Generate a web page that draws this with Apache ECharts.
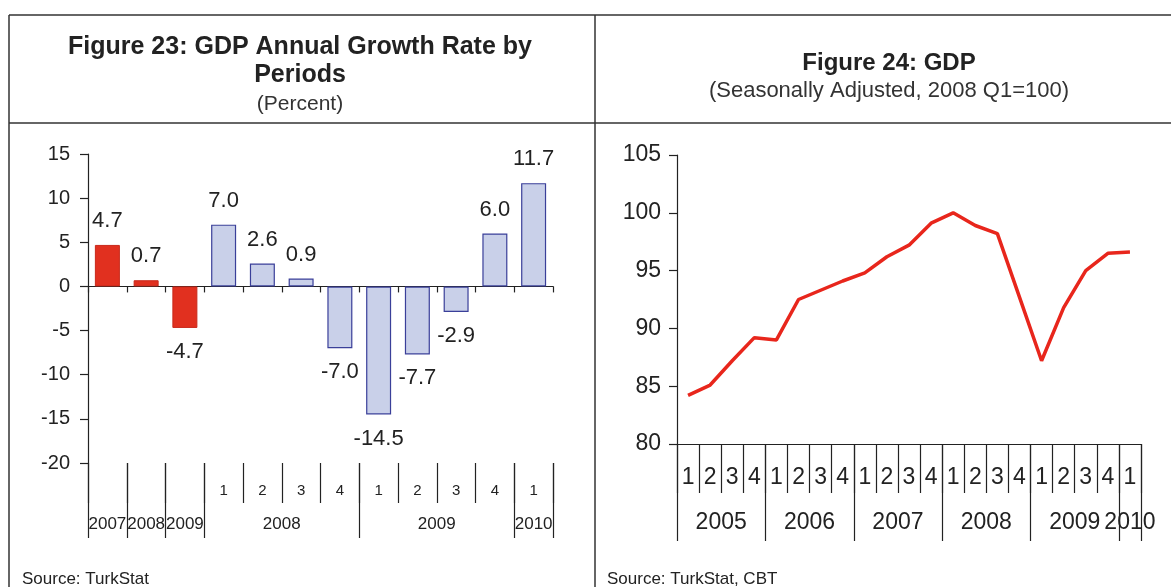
<!DOCTYPE html>
<html>
<head>
<meta charset="utf-8">
<title>GDP growth and GDP index</title>
<script src="https://cdn.jsdelivr.net/npm/echarts@6/dist/echarts.min.js"></script>
<style>
  html, body { margin: 0; padding: 0; background: #fff; }
  #chart { width: 1171px; height: 587px; }
</style>
</head>
<body>
<div id="chart"></div>
<script>
  // Figure 23 - annual growth rate by periods (percent)
  var growthPeriods = ['2007', '2008', '2009', '2008 Q1', '2008 Q2', '2008 Q3', '2008 Q4',
    '2009 Q1', '2009 Q2', '2009 Q3', '2009 Q4', '2010 Q1']
  var growthRates = [4.7, 0.7, -4.7, 7.0, 2.6, 0.9, -7.0, -14.5, -7.7, -2.9, 6.0, 11.7]
  var growthGroups = ['2007', '2008', '2009', '2008', '2009', '2010']
  var growthSpans = [1, 1, 1, 4, 4, 1]
  var growthTicks = [-20, -15, -10, -5, 0, 5, 10, 15]

  // Figure 24 - GDP, seasonally adjusted, 2008 Q1 = 100
  var gdpPeriods = ['2005 Q1', '2005 Q2', '2005 Q3', '2005 Q4', '2006 Q1', '2006 Q2', '2006 Q3', '2006 Q4',
    '2007 Q1', '2007 Q2', '2007 Q3', '2007 Q4', '2008 Q1', '2008 Q2', '2008 Q3', '2008 Q4',
    '2009 Q1', '2009 Q2', '2009 Q3', '2009 Q4', '2010 Q1']
  var gdpIndex = [84.2, 85.1, 87.2, 89.2, 89.0, 92.5, 93.3, 94.1, 94.8, 96.2, 97.2, 99.1,
    100.0, 98.9, 98.2, 92.7, 87.2, 91.8, 95.0, 96.5, 96.6]
  var gdpYears = ['2005', '2006', '2007', '2008', '2009', '2010']
  var gdpSpans = [4, 4, 4, 4, 4, 1]
  var gdpTicks = [80, 85, 90, 95, 100, 105]

  var FONT = 'Liberation Sans, Arial, sans-serif'
  var INK = '#222'

  // start index and center of each year group
  function groupInfo (spans) {
    var starts = []
    var centers = []
    var pos = 0
    for (var i = 0; i < spans.length; i++) {
      starts.push(pos)
      centers.push(pos + spans[i] / 2)
      pos += spans[i]
    }
    return { starts: starts, centers: centers }
  }

  function quarterOf (period) {
    var parts = period.split(' Q')
    return parts.length > 1 ? parts[1] : ''
  }

  function groupLabel (groups, centers) {
    return function (val) {
      for (var i = 0; i < centers.length; i++) {
        if (Math.abs(val - centers[i]) < 1e-6) return groups[i]
      }
      return ''
    }
  }

  var growthInfo = groupInfo(growthSpans)
  var gdpInfo = groupInfo(gdpSpans)

  var axisLine = { color: INK, width: 1.2 }

  var chart = echarts.init(document.getElementById('chart'))
  chart.setOption({
    animation: false,
    backgroundColor: '#fff',
    textStyle: { fontFamily: FONT },
    title: [{
      text: 'Figure 23: GDP Annual Growth Rate by\nPeriods',
      subtext: '(Percent)',
      left: 300,
      top: 33,
      textAlign: 'center',
      itemGap: 4,
      padding: 0,
      textStyle: { fontFamily: FONT, fontSize: 25, fontWeight: 'bold', lineHeight: 28, color: INK },
      subtextStyle: { fontFamily: FONT, fontSize: 21, lineHeight: 22, color: '#333' }
    }, {
      text: 'Figure 24: GDP',
      subtext: '(Seasonally Adjusted, 2008 Q1=100)',
      left: 889,
      top: 50,
      textAlign: 'center',
      itemGap: 3,
      padding: 0,
      textStyle: { fontFamily: FONT, fontSize: 24, fontWeight: 'bold', lineHeight: 26, color: INK },
      subtextStyle: { fontFamily: FONT, fontSize: 22, lineHeight: 24, color: '#333' }
    }, {
      text: 'Source: TurkStat',
      left: 22,
      top: 571,
      padding: 0,
      textStyle: { fontFamily: FONT, fontSize: 17, fontWeight: 'normal', color: INK }
    }, {
      text: 'Source: TurkStat, CBT',
      left: 607,
      top: 571,
      padding: 0,
      textStyle: { fontFamily: FONT, fontSize: 17, fontWeight: 'normal', color: INK }
    }],
    graphic: [
      { type: 'line', shape: { x1: 9, y1: 15, x2: 1171, y2: 15 }, style: { stroke: '#333', lineWidth: 1.5 } },
      { type: 'line', shape: { x1: 9, y1: 123, x2: 1171, y2: 123 }, style: { stroke: '#333', lineWidth: 1.5 } },
      { type: 'line', shape: { x1: 9, y1: 15, x2: 9, y2: 587 }, style: { stroke: '#333', lineWidth: 1.5 } },
      { type: 'line', shape: { x1: 595, y1: 15, x2: 595, y2: 587 }, style: { stroke: '#333', lineWidth: 1.5 } }
    ],
    grid: [
      { left: 88, top: 154, width: 465, height: 309 },
      { left: 677, top: 155, width: 464, height: 289 }
    ],
    xAxis: [{
      // bars' own axis, sits on zero
      type: 'category',
      gridIndex: 0,
      data: growthPeriods,
      axisLine: { onZero: true, lineStyle: axisLine },
      axisTick: { show: true, interval: 0, length: 6, lineStyle: axisLine },
      axisLabel: { show: false }
    }, {
      // quarter numbers with short separators
      type: 'category',
      gridIndex: 0,
      position: 'bottom',
      data: growthPeriods,
      axisLine: { show: false, onZero: false },
      axisTick: { show: true, interval: 0, length: 40, lineStyle: axisLine },
      axisLabel: {
        interval: 0,
        margin: 20,
        fontSize: 15,
        color: INK,
        formatter: function (v) { return quarterOf(v) }
      }
    }, {
      // long separators between years
      type: 'category',
      gridIndex: 0,
      position: 'bottom',
      data: growthPeriods,
      axisLine: { show: false, onZero: false },
      axisTick: {
        show: true,
        interval: function (i) { return growthInfo.starts.indexOf(i) >= 0 },
        length: 75,
        lineStyle: axisLine
      },
      axisLabel: { show: false }
    }, {
      // year names centred under their groups
      type: 'value',
      gridIndex: 0,
      position: 'bottom',
      min: 0,
      max: growthPeriods.length,
      interval: 0.5,
      axisLine: { show: false, onZero: false },
      axisTick: { show: false },
      splitLine: { show: false },
      axisLabel: {
        margin: 53,
        fontSize: 17,
        color: INK,
        formatter: groupLabel(growthGroups, growthInfo.centers)
      }
    }, {
      type: 'category',
      gridIndex: 1,
      position: 'bottom',
      data: gdpPeriods,
      axisLine: { onZero: false, lineStyle: axisLine },
      axisTick: { show: true, interval: 0, length: 49, lineStyle: axisLine },
      axisLabel: {
        interval: 0,
        margin: 22,
        fontSize: 23,
        color: INK,
        formatter: function (v) { return quarterOf(v) }
      }
    }, {
      type: 'category',
      gridIndex: 1,
      position: 'bottom',
      data: gdpPeriods,
      axisLine: { show: false, onZero: false },
      axisTick: {
        show: true,
        interval: function (i) { return gdpInfo.starts.indexOf(i) >= 0 },
        length: 97,
        lineStyle: axisLine
      },
      axisLabel: { show: false }
    }, {
      type: 'value',
      gridIndex: 1,
      position: 'bottom',
      min: 0,
      max: gdpPeriods.length,
      interval: 0.5,
      axisLine: { show: false, onZero: false },
      axisTick: { show: false },
      splitLine: { show: false },
      axisLabel: {
        margin: 67,
        fontSize: 23,
        color: INK,
        formatter: groupLabel(gdpYears, gdpInfo.centers)
      }
    }],
    yAxis: [{
      type: 'value',
      gridIndex: 0,
      min: growthTicks[0],
      max: growthTicks[growthTicks.length - 1],
      interval: growthTicks[1] - growthTicks[0],
      axisLine: { show: true, onZero: false, lineStyle: axisLine },
      axisTick: { show: true, length: 8, lineStyle: axisLine },
      splitLine: { show: false },
      axisLabel: { margin: 18, fontSize: 20, color: INK }
    }, {
      type: 'value',
      gridIndex: 1,
      min: gdpTicks[0],
      max: gdpTicks[gdpTicks.length - 1],
      interval: gdpTicks[1] - gdpTicks[0],
      axisLine: { show: true, onZero: false, lineStyle: axisLine },
      axisTick: { show: true, length: 8, lineStyle: axisLine },
      splitLine: { show: false },
      axisLabel: { margin: 16, fontSize: 23, color: INK }
    }],
    series: [{
      name: 'Growth rate',
      type: 'bar',
      xAxisIndex: 0,
      yAxisIndex: 0,
      barWidth: 25,
      data: growthRates.map(function (v, i) {
        var annual = quarterOf(growthPeriods[i]) === ''
        return {
          value: v,
          itemStyle: annual
            ? { color: '#E1301F', borderColor: '#C8281A', borderWidth: 1 }
            : { color: '#C9D0E9', borderColor: '#3A3F99', borderWidth: 1.2 },
          label: { position: v < 0 ? 'bottom' : 'top' }
        }
      }),
      label: {
        show: true,
        distance: 13,
        fontSize: 22,
        color: INK,
        formatter: function (p) { return p.value.toFixed(1) }
      }
    }, {
      name: 'GDP',
      type: 'line',
      xAxisIndex: 4,
      yAxisIndex: 1,
      data: gdpIndex,
      symbol: 'none',
      lineStyle: { color: '#E8261C', width: 3.5 },
      itemStyle: { color: '#E8261C' }
    }]
  })
</script>
</body>
</html>
